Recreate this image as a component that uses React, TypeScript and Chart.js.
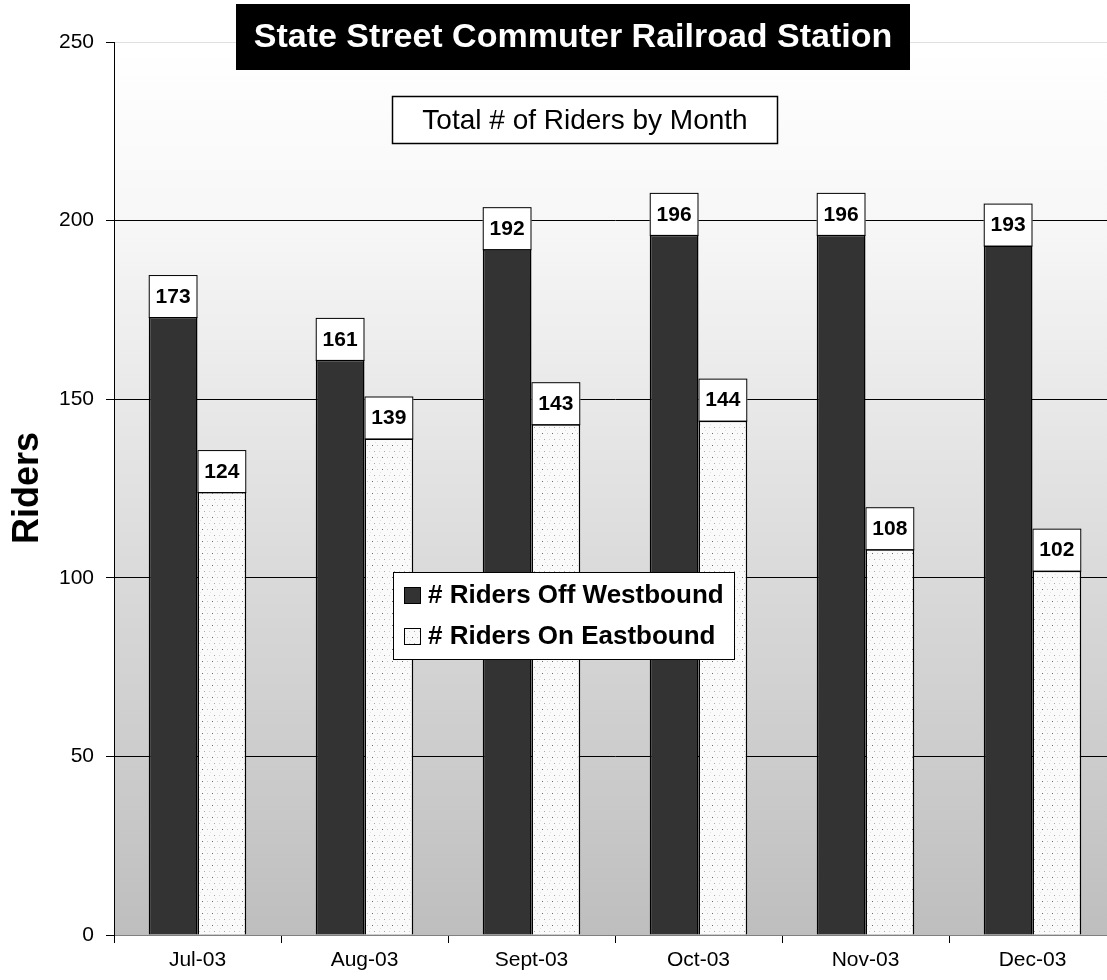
import React, { useEffect, useRef } from "react";
import { Chart, registerables } from "chart.js";

Chart.register(...registerables);

const categories = ["Jul-03", "Aug-03", "Sept-03", "Oct-03", "Nov-03", "Dec-03"];
const westboundOff = [173, 161, 192, 196, 196, 193];
const eastboundOn = [124, 139, 143, 144, 108, 102];
const seriesLabels = ["# Riders Off Westbound", "# Riders On Eastbound"];
const titleText = "State Street Commuter Railroad Station";
const subtitleText = "Total # of Riders by Month";
const yAxisTitle = "Riders";
const yMin = 0;
const yMax = 250;
const yStep = 50;

const FONT = "Arial, 'Liberation Sans', Helvetica, sans-serif";

function makePattern(): CanvasPattern | string {
  const c = document.createElement("canvas");
  c.width = 10;
  c.height = 12;
  const g = c.getContext("2d");
  if (!g) return "#f4f4f4";
  g.fillStyle = "#fafafa";
  g.fillRect(0, 0, 10, 12);
  g.fillStyle = "#6a6a6a";
  g.fillRect(2, 1, 1, 1);
  g.fillStyle = "#c4c4c4";
  g.fillRect(7, 1, 1, 1);
  g.fillStyle = "#a8a8a8";
  g.fillRect(4, 7, 1, 1);
  g.fillStyle = "#d2d2d2";
  g.fillRect(9, 7, 1, 1);
  g.fillStyle = "#e2e2e2";
  g.fillRect(0, 4, 1, 1);
  g.fillRect(5, 10, 1, 1);
  const p = g.createPattern(c, "repeat");
  return p || "#f4f4f4";
}

export default function App() {
  const ref = useRef<HTMLCanvasElement | null>(null);

  useEffect(() => {
    const canvas = ref.current;
    if (!canvas) return;
    const pattern = makePattern();

    const bgPlugin = {
      id: "bgPlugin",
      beforeDraw(chart: any) {
        const { ctx, chartArea } = chart;
        ctx.save();
        ctx.fillStyle = "#ffffff";
        ctx.fillRect(0, 0, chart.width, chart.height);
        const grad = ctx.createLinearGradient(0, chartArea.top, 0, chartArea.bottom);
        grad.addColorStop(0, "#ffffff");
        grad.addColorStop(0.2, "#f7f7f7");
        grad.addColorStop(0.45, "#e5e5e5");
        grad.addColorStop(0.65, "#d6d6d6");
        grad.addColorStop(0.85, "#c9c9c9");
        grad.addColorStop(1, "#bebebe");
        ctx.fillStyle = grad;
        ctx.fillRect(chartArea.left, chartArea.top, chartArea.right - chartArea.left, chartArea.bottom - chartArea.top);
        ctx.restore();
      },
    };

    const labelPlugin = {
      id: "labelPlugin",
      afterDatasetsDraw(chart: any) {
        const { ctx } = chart;
        ctx.save();
        chart.data.datasets.forEach((ds: any, di: number) => {
          const meta = chart.getDatasetMeta(di);
          meta.data.forEach((bar: any, i: number) => {
            const w = bar.width;
            const h = 42;
            const x = bar.x - w / 2;
            const y = bar.y - h;
            ctx.fillStyle = "#ffffff";
            ctx.fillRect(x, y, w, h);
            ctx.strokeStyle = "#000";
            ctx.lineWidth = 1;
            ctx.strokeRect(x + 0.5, y + 0.5, w - 1, h);
            ctx.fillStyle = "#000";
            ctx.font = `bold 21px ${FONT}`;
            ctx.textAlign = "center";
            ctx.textBaseline = "middle";
            ctx.fillText(String(ds.data[i]), bar.x, y + h / 2 + 1);
          });
        });
        ctx.restore();
      },
    };

    const decorPlugin = {
      id: "decorPlugin",
      afterDraw(chart: any) {
        const { ctx } = chart;
        ctx.save();
        // Title box
        ctx.fillStyle = "#000";
        ctx.fillRect(236, 4, 674, 66);
        ctx.fillStyle = "#fff";
        ctx.font = `bold 34px ${FONT}`;
        ctx.textAlign = "center";
        ctx.textBaseline = "middle";
        ctx.fillText(titleText, 573, 38);
        // Subtitle box
        ctx.fillStyle = "#fff";
        ctx.fillRect(392, 96, 386, 48);
        ctx.strokeStyle = "#000";
        ctx.lineWidth = 1.5;
        ctx.strokeRect(392.5, 96.5, 385, 47);
        ctx.fillStyle = "#000";
        ctx.font = `28px ${FONT}`;
        ctx.fillText(subtitleText, 585, 121);
        // Y axis title
        ctx.save();
        ctx.translate(28, 488);
        ctx.rotate(-Math.PI / 2);
        ctx.font = `bold 36px ${FONT}`;
        ctx.fillText(yAxisTitle, 0, 0);
        ctx.restore();
        // Legend
        const lx = 393, ly = 572, lw = 341, lh = 87;
        ctx.fillStyle = "#fff";
        ctx.fillRect(lx, ly, lw, lh);
        ctx.strokeStyle = "#000";
        ctx.lineWidth = 1;
        ctx.strokeRect(lx + 0.5, ly + 0.5, lw, lh);
        const rows = [595, 636];
        chart.data.datasets.forEach((ds: any, i: number) => {
          const cy = rows[i];
          ctx.fillStyle = ds.backgroundColor;
          ctx.fillRect(404, cy - 8, 16, 16);
          ctx.strokeStyle = "#000";
          ctx.lineWidth = 1;
          ctx.strokeRect(404.5, cy - 7.5, 16, 16);
          ctx.fillStyle = "#000";
          ctx.font = `bold 26px ${FONT}`;
          ctx.textAlign = "left";
          ctx.textBaseline = "middle";
          ctx.fillText(ds.label, 428, cy + 1);
        });
        ctx.restore();
      },
    };

    const chart = new Chart(canvas, {
      type: "bar",
      data: {
        labels: categories,
        datasets: [
          {
            label: seriesLabels[0],
            data: westboundOff,
            backgroundColor: "#333333",
            borderColor: "#000000",
            borderWidth: 1.5,
            categoryPercentage: 0.584,
            barPercentage: 1,
          },
          {
            label: seriesLabels[1],
            data: eastboundOn,
            backgroundColor: pattern as any,
            borderColor: "#000000",
            borderWidth: 1.5,
            categoryPercentage: 0.584,
            barPercentage: 1,
          },
        ],
      },
      options: {
        responsive: false,
        animation: false,
        devicePixelRatio: 1,
        layout: { padding: { top: 42, left: 0, right: 0, bottom: 0 } },
        plugins: {
          legend: { display: false },
          title: { display: false },
          tooltip: { enabled: false },
        },
        scales: {
          x: {
            offset: true,
            grid: {
              display: true,
              drawOnChartArea: false,
              drawTicks: true,
              tickLength: 8,
              tickColor: "#000",
              offset: true,
            },
            border: { color: "#808080", width: 1 },
            ticks: {
              color: "#000",
              font: { family: FONT, size: 21 },
              padding: 5,
              maxRotation: 0,
              autoSkip: false,
            },
            afterFit: (s: any) => {
              s.height = 45;
            },
          },
          y: {
            min: yMin,
            max: yMax,
            ticks: {
              stepSize: yStep,
              color: "#000",
              font: { family: FONT, size: 21 },
              padding: 12,
            },
            grid: {
              color: (c: any) =>
                c.tick && c.tick.value === yMax ? "#e0e0e0" : c.tick && c.tick.value === 0 ? "#808080" : "#000",
              tickColor: "#000",
              tickLength: 8,
              lineWidth: 1,
            },
            border: { color: "#000", width: 1 },
            afterFit: (s: any) => {
              s.width = 114;
            },
          },
        },
      },
      plugins: [bgPlugin, labelPlugin, decorPlugin],
    });

    return () => chart.destroy();
  }, []);

  return (
    <div
      style={{
        position: "absolute",
        left: 0,
        top: 0,
        width: 1107,
        height: 980,
        overflow: "hidden",
        background: "#fff",
      }}
    >
      <canvas ref={ref} width={1116} height={980} style={{ display: "block", width: 1116, height: 980 }} />
    </div>
  );
}
